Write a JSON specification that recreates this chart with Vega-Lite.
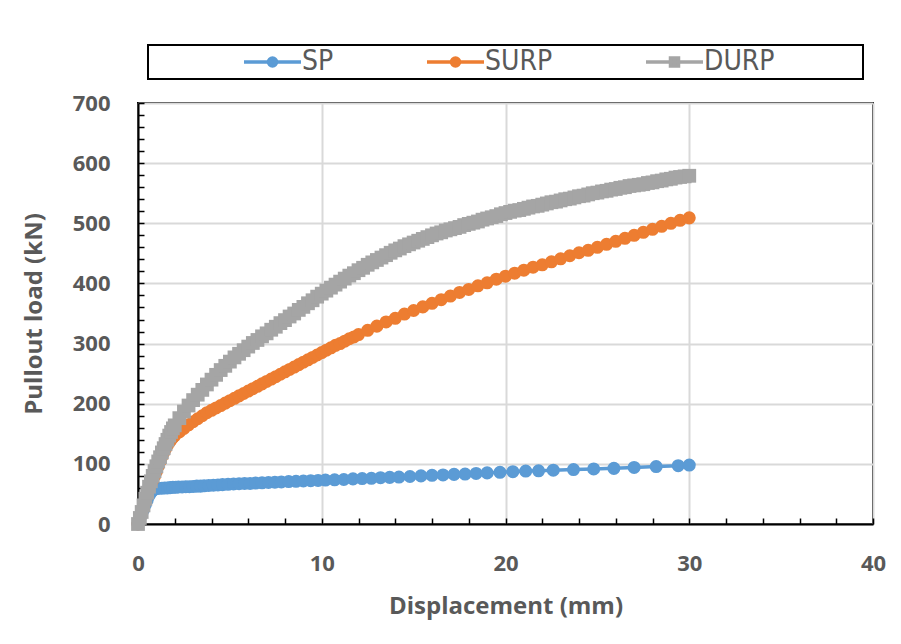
{
  "$schema": "https://vega.github.io/schema/vega-lite/v6.json",
  "width": 735,
  "height": 421,
  "autosize": {"type": "none"},
  "padding": {"left": 138, "top": 103, "right": 28, "bottom": 120},
  "background": "white",
  "config": {
    "view": {"stroke": "black", "strokeWidth": 2},
    "axis": {
      "labelFont": "Open Sans",
      "labelFontSize": 22,
      "labelFontWeight": "bold",
      "labelColor": "#595959",
      "titleFont": "Open Sans",
      "titleFontSize": 24,
      "titleFontWeight": "bold",
      "titleColor": "#595959",
      "domainColor": "black",
      "domainWidth": 2,
      "tickColor": "black",
      "tickWidth": 1.5,
      "tickSize": -6,
      "gridWidth": 2,
      "labelOverlap": false,
      "labelBound": false,
      "labelFlush": false
    }
  },
  "data": {
    "values": [
      {"series":"SP","x":0,"y":0},{"series":"SP","x":0.1,"y":8},{"series":"SP","x":0.2,"y":16},{"series":"SP","x":0.3,"y":24},{"series":"SP","x":0.4,"y":32},{"series":"SP","x":0.5,"y":40},{"series":"SP","x":0.6,"y":47},{"series":"SP","x":0.7,"y":52},{"series":"SP","x":0.8,"y":56},{"series":"SP","x":0.9,"y":58},{"series":"SP","x":1.0,"y":59},{"series":"SP","x":1.15,"y":59.5},{"series":"SP","x":1.3,"y":59.5},{"series":"SP","x":1.45,"y":60},{"series":"SP","x":1.6,"y":60},{"series":"SP","x":1.75,"y":60.5},{"series":"SP","x":1.9,"y":61},{"series":"SP","x":2.05,"y":61},{"series":"SP","x":2.2,"y":61.5},{"series":"SP","x":2.4,"y":61.5},{"series":"SP","x":2.6,"y":62},{"series":"SP","x":2.8,"y":62},{"series":"SP","x":3.0,"y":62.5},{"series":"SP","x":3.2,"y":63},{"series":"SP","x":3.4,"y":63},{"series":"SP","x":3.6,"y":63.5},{"series":"SP","x":3.85,"y":64},{"series":"SP","x":4.1,"y":64.5},{"series":"SP","x":4.35,"y":65},{"series":"SP","x":4.6,"y":65.5},{"series":"SP","x":4.9,"y":66},{"series":"SP","x":5.2,"y":66.5},{"series":"SP","x":5.5,"y":67},{"series":"SP","x":5.8,"y":67.5},{"series":"SP","x":6.1,"y":67.5},{"series":"SP","x":6.4,"y":68},{"series":"SP","x":6.75,"y":68.5},{"series":"SP","x":7.1,"y":69},{"series":"SP","x":7.45,"y":69.5},{"series":"SP","x":7.8,"y":70},{"series":"SP","x":8.2,"y":70.5},{"series":"SP","x":8.6,"y":71},{"series":"SP","x":9.0,"y":71.5},{"series":"SP","x":9.4,"y":72},{"series":"SP","x":9.8,"y":72.5},{"series":"SP","x":10.2,"y":73},{"series":"SP","x":10.7,"y":73.5},{"series":"SP","x":11.2,"y":74},{"series":"SP","x":11.7,"y":75},{"series":"SP","x":12.2,"y":75.5},{"series":"SP","x":12.7,"y":76},{"series":"SP","x":13.2,"y":77},{"series":"SP","x":13.7,"y":77.5},{"series":"SP","x":14.2,"y":78},{"series":"SP","x":14.8,"y":79},{"series":"SP","x":15.4,"y":80},{"series":"SP","x":16.0,"y":81},{"series":"SP","x":16.6,"y":81.5},{"series":"SP","x":17.2,"y":82.5},{"series":"SP","x":17.8,"y":83},{"series":"SP","x":18.4,"y":84},{"series":"SP","x":19.0,"y":85},{"series":"SP","x":19.7,"y":86},{"series":"SP","x":20.4,"y":87},{"series":"SP","x":21.1,"y":88},{"series":"SP","x":21.8,"y":88.5},{"series":"SP","x":22.6,"y":89.5},{"series":"SP","x":23.7,"y":90.5},{"series":"SP","x":24.8,"y":91.5},{"series":"SP","x":25.9,"y":92.5},{"series":"SP","x":27.0,"y":94},{"series":"SP","x":28.2,"y":95.5},{"series":"SP","x":29.4,"y":97},{"series":"SP","x":30.0,"y":98},
      {"series":"SURP","x":0,"y":0},{"series":"SURP","x":0.1,"y":9},{"series":"SURP","x":0.2,"y":18},{"series":"SURP","x":0.3,"y":28},{"series":"SURP","x":0.4,"y":38},{"series":"SURP","x":0.5,"y":48},{"series":"SURP","x":0.6,"y":58},{"series":"SURP","x":0.7,"y":66},{"series":"SURP","x":0.8,"y":73},{"series":"SURP","x":0.9,"y":80},{"series":"SURP","x":1.0,"y":87},{"series":"SURP","x":1.1,"y":96},{"series":"SURP","x":1.2,"y":104},{"series":"SURP","x":1.3,"y":112},{"series":"SURP","x":1.4,"y":119},{"series":"SURP","x":1.5,"y":125},{"series":"SURP","x":1.6,"y":131},{"series":"SURP","x":1.7,"y":136},{"series":"SURP","x":1.8,"y":140},{"series":"SURP","x":1.9,"y":144},{"series":"SURP","x":2.0,"y":147},{"series":"SURP","x":2.25,"y":153},{"series":"SURP","x":2.5,"y":159},{"series":"SURP","x":2.75,"y":165},{"series":"SURP","x":3.0,"y":170},{"series":"SURP","x":3.25,"y":175},{"series":"SURP","x":3.5,"y":180},{"series":"SURP","x":3.75,"y":185},{"series":"SURP","x":4.0,"y":189},{"series":"SURP","x":4.25,"y":193},{"series":"SURP","x":4.5,"y":197},{"series":"SURP","x":4.75,"y":201},{"series":"SURP","x":5.0,"y":205},{"series":"SURP","x":5.25,"y":209},{"series":"SURP","x":5.5,"y":213},{"series":"SURP","x":5.75,"y":217},{"series":"SURP","x":6.0,"y":221},{"series":"SURP","x":6.25,"y":225},{"series":"SURP","x":6.5,"y":229},{"series":"SURP","x":6.75,"y":233},{"series":"SURP","x":7.0,"y":237},{"series":"SURP","x":7.25,"y":241},{"series":"SURP","x":7.5,"y":245},{"series":"SURP","x":7.75,"y":249},{"series":"SURP","x":8.0,"y":253},{"series":"SURP","x":8.25,"y":257},{"series":"SURP","x":8.5,"y":261},{"series":"SURP","x":8.75,"y":265},{"series":"SURP","x":9.0,"y":269},{"series":"SURP","x":9.25,"y":273},{"series":"SURP","x":9.5,"y":277},{"series":"SURP","x":9.75,"y":281},{"series":"SURP","x":10.0,"y":285},{"series":"SURP","x":10.25,"y":289},{"series":"SURP","x":10.5,"y":293},{"series":"SURP","x":10.75,"y":297},{"series":"SURP","x":11.0,"y":300},{"series":"SURP","x":11.25,"y":304},{"series":"SURP","x":11.5,"y":308},{"series":"SURP","x":11.75,"y":311},{"series":"SURP","x":12.0,"y":315},{"series":"SURP","x":12.5,"y":322},{"series":"SURP","x":13.0,"y":329},{"series":"SURP","x":13.5,"y":336},{"series":"SURP","x":14.0,"y":342},{"series":"SURP","x":14.5,"y":349},{"series":"SURP","x":15.0,"y":355},{"series":"SURP","x":15.5,"y":361},{"series":"SURP","x":16.0,"y":367},{"series":"SURP","x":16.5,"y":373},{"series":"SURP","x":17.0,"y":379},{"series":"SURP","x":17.5,"y":385},{"series":"SURP","x":18.0,"y":390},{"series":"SURP","x":18.5,"y":396},{"series":"SURP","x":19.0,"y":401},{"series":"SURP","x":19.5,"y":407},{"series":"SURP","x":20.0,"y":412},{"series":"SURP","x":20.5,"y":417},{"series":"SURP","x":21.0,"y":422},{"series":"SURP","x":21.5,"y":427},{"series":"SURP","x":22.0,"y":431},{"series":"SURP","x":22.5,"y":436},{"series":"SURP","x":23.0,"y":441},{"series":"SURP","x":23.5,"y":446},{"series":"SURP","x":24.0,"y":451},{"series":"SURP","x":24.5,"y":455},{"series":"SURP","x":25.0,"y":460},{"series":"SURP","x":25.5,"y":465},{"series":"SURP","x":26.0,"y":470},{"series":"SURP","x":26.5,"y":475},{"series":"SURP","x":27.0,"y":480},{"series":"SURP","x":27.5,"y":485},{"series":"SURP","x":28.0,"y":490},{"series":"SURP","x":28.5,"y":495},{"series":"SURP","x":29.0,"y":500},{"series":"SURP","x":29.5,"y":505},{"series":"SURP","x":30.0,"y":509},
      {"series":"DURP","x":0,"y":0},{"series":"DURP","x":0.1,"y":10},{"series":"DURP","x":0.2,"y":20},{"series":"DURP","x":0.3,"y":31},{"series":"DURP","x":0.4,"y":42},{"series":"DURP","x":0.5,"y":52},{"series":"DURP","x":0.6,"y":62},{"series":"DURP","x":0.7,"y":71},{"series":"DURP","x":0.8,"y":80},{"series":"DURP","x":0.9,"y":88},{"series":"DURP","x":1.0,"y":96},{"series":"DURP","x":1.1,"y":104},{"series":"DURP","x":1.2,"y":111},{"series":"DURP","x":1.3,"y":119},{"series":"DURP","x":1.4,"y":126},{"series":"DURP","x":1.5,"y":133},{"series":"DURP","x":1.6,"y":140},{"series":"DURP","x":1.7,"y":147},{"series":"DURP","x":1.8,"y":153},{"series":"DURP","x":1.9,"y":159},{"series":"DURP","x":2.0,"y":164},{"series":"DURP","x":2.25,"y":176},{"series":"DURP","x":2.5,"y":187},{"series":"DURP","x":2.75,"y":197},{"series":"DURP","x":3.0,"y":206},{"series":"DURP","x":3.25,"y":215},{"series":"DURP","x":3.5,"y":223},{"series":"DURP","x":3.75,"y":232},{"series":"DURP","x":4.0,"y":240},{"series":"DURP","x":4.25,"y":248},{"series":"DURP","x":4.5,"y":256},{"series":"DURP","x":4.75,"y":263},{"series":"DURP","x":5.0,"y":270},{"series":"DURP","x":5.25,"y":277},{"series":"DURP","x":5.5,"y":283},{"series":"DURP","x":5.75,"y":289},{"series":"DURP","x":6.0,"y":295},{"series":"DURP","x":6.25,"y":301},{"series":"DURP","x":6.5,"y":306},{"series":"DURP","x":6.75,"y":312},{"series":"DURP","x":7.0,"y":317},{"series":"DURP","x":7.25,"y":323},{"series":"DURP","x":7.5,"y":328},{"series":"DURP","x":7.75,"y":334},{"series":"DURP","x":8.0,"y":339},{"series":"DURP","x":8.25,"y":345},{"series":"DURP","x":8.5,"y":350},{"series":"DURP","x":8.75,"y":356},{"series":"DURP","x":9.0,"y":361},{"series":"DURP","x":9.25,"y":367},{"series":"DURP","x":9.5,"y":372},{"series":"DURP","x":9.75,"y":378},{"series":"DURP","x":10.0,"y":383},{"series":"DURP","x":10.25,"y":388},{"series":"DURP","x":10.5,"y":393},{"series":"DURP","x":10.75,"y":398},{"series":"DURP","x":11.0,"y":403},{"series":"DURP","x":11.25,"y":408},{"series":"DURP","x":11.5,"y":413},{"series":"DURP","x":11.75,"y":417},{"series":"DURP","x":12.0,"y":422},{"series":"DURP","x":12.25,"y":426},{"series":"DURP","x":12.5,"y":431},{"series":"DURP","x":12.75,"y":435},{"series":"DURP","x":13.0,"y":439},{"series":"DURP","x":13.25,"y":443},{"series":"DURP","x":13.5,"y":447},{"series":"DURP","x":13.75,"y":451},{"series":"DURP","x":14.0,"y":455},{"series":"DURP","x":14.25,"y":458},{"series":"DURP","x":14.5,"y":462},{"series":"DURP","x":14.75,"y":465},{"series":"DURP","x":15.0,"y":468},{"series":"DURP","x":15.25,"y":471},{"series":"DURP","x":15.5,"y":474},{"series":"DURP","x":15.75,"y":477},{"series":"DURP","x":16.0,"y":480},{"series":"DURP","x":16.25,"y":483},{"series":"DURP","x":16.5,"y":485},{"series":"DURP","x":16.75,"y":488},{"series":"DURP","x":17.0,"y":490},{"series":"DURP","x":17.25,"y":492},{"series":"DURP","x":17.5,"y":494},{"series":"DURP","x":17.75,"y":497},{"series":"DURP","x":18.0,"y":499},{"series":"DURP","x":18.25,"y":501},{"series":"DURP","x":18.5,"y":503},{"series":"DURP","x":18.75,"y":506},{"series":"DURP","x":19.0,"y":508},{"series":"DURP","x":19.25,"y":510},{"series":"DURP","x":19.5,"y":512},{"series":"DURP","x":19.75,"y":515},{"series":"DURP","x":20.0,"y":517},{"series":"DURP","x":20.25,"y":519},{"series":"DURP","x":20.5,"y":521},{"series":"DURP","x":20.75,"y":522},{"series":"DURP","x":21.0,"y":524},{"series":"DURP","x":21.25,"y":526},{"series":"DURP","x":21.5,"y":528},{"series":"DURP","x":21.75,"y":529},{"series":"DURP","x":22.0,"y":531},{"series":"DURP","x":22.25,"y":533},{"series":"DURP","x":22.5,"y":535},{"series":"DURP","x":22.75,"y":536},{"series":"DURP","x":23.0,"y":538},{"series":"DURP","x":23.25,"y":540},{"series":"DURP","x":23.5,"y":541},{"series":"DURP","x":23.75,"y":543},{"series":"DURP","x":24.0,"y":545},{"series":"DURP","x":24.25,"y":546},{"series":"DURP","x":24.5,"y":548},{"series":"DURP","x":24.75,"y":550},{"series":"DURP","x":25.0,"y":551},{"series":"DURP","x":25.25,"y":553},{"series":"DURP","x":25.5,"y":554},{"series":"DURP","x":25.75,"y":556},{"series":"DURP","x":26.0,"y":557},{"series":"DURP","x":26.25,"y":559},{"series":"DURP","x":26.5,"y":560},{"series":"DURP","x":26.75,"y":562},{"series":"DURP","x":27.0,"y":563},{"series":"DURP","x":27.25,"y":564},{"series":"DURP","x":27.5,"y":565},{"series":"DURP","x":27.75,"y":567},{"series":"DURP","x":28.0,"y":568},{"series":"DURP","x":28.25,"y":570},{"series":"DURP","x":28.5,"y":571},{"series":"DURP","x":28.75,"y":573},{"series":"DURP","x":29.0,"y":574},{"series":"DURP","x":29.25,"y":576},{"series":"DURP","x":29.5,"y":577},{"series":"DURP","x":29.75,"y":578},{"series":"DURP","x":30.0,"y":579}
    ]
  },
  "encoding": {
    "x": {
      "field": "x",
      "type": "quantitative",
      "title": "Displacement (mm)",
      "scale": {"domain": [0, 40], "nice": false, "zero": false},
      "axis": {
        "values": [0,2,4,6,8,10,12,14,16,18,20,22,24,26,28,30,32,34,36,38,40],
        "labelExpr": "datum.value % 10 === 0 ? datum.label : ''",
        "gridColor": {"condition": {"test": "datum.value % 10 === 0", "value": "#D9D9D9"}, "value": "transparent"},
        "labelPadding": 35,
        "titlePadding": 20
      }
    },
    "y": {
      "field": "y",
      "type": "quantitative",
      "title": "Pullout load  (kN)",
      "scale": {"domain": [0, 700], "nice": false},
      "axis": {
        "values": [0,20,40,60,80,100,120,140,160,180,200,220,240,260,280,300,320,340,360,380,400,420,440,460,480,500,520,540,560,580,600,620,640,660,680,700],
        "labelExpr": "datum.value % 100 === 0 ? datum.label : ''",
        "gridColor": {"condition": {"test": "datum.value % 100 === 0", "value": "#D9D9D9"}, "value": "transparent"},
        "labelPadding": 34,
        "titlePadding": 26
      }
    },
    "color": {
      "field": "series",
      "type": "nominal",
      "scale": {"domain": ["SP", "SURP", "DURP"], "range": ["#5B9BD5", "#ED7D31", "#A5A5A5"]},
      "legend": {
        "orient": "none",
        "legendX": 10,
        "legendY": -58,
        "direction": "horizontal",
        "columns": 3,
        "title": "\u00a0",
        "titleOrient": "right",
        "titlePadding": 85,
        "titleFontSize": 1,
        "padding": 3,
        "symbolOffset": 84,
        "columnPadding": 0,
        "labelOffset": 39,
        "symbolSize": 100,
        "symbolStrokeWidth": 3.5,
        "labelFont": "Liberation Sans Narrow, DejaVu Sans Condensed, Roboto Condensed, sans-serif",
        "labelFontSize": 28,
        "labelColor": "#595959",
        "strokeColor": "black",
        "encode": {
          "legend": {"update": {"strokeWidth": {"value": 2}}},
          "symbols": {
            "update": {
              "shape": {"signal": "datum.value === 'DURP' ? 'M-1,0H10.4M3.9,-0.8H5.5V0.8H3.9Z' : 'M-1,0H10.4M3.9,0A0.8,0.8 0 1,1 5.5,0A0.8,0.8 0 1,1 3.9,0Z'"},
              "fill": {"scale": "color", "field": "value"},
              "stroke": {"scale": "color", "field": "value"},
              "strokeWidth": {"value": 3.5},
              "opacity": {"value": 1}
            }
          }
        }
      }
    }
  },
  "layer": [
    {"mark": {"type": "line", "strokeWidth": 3.5}, "encoding": {"order": {"field": "x", "type": "quantitative"}}},
    {"transform": [{"filter": "datum.series !== 'DURP'"}], "mark": {"type": "point", "shape": "circle", "filled": true, "size": 170, "opacity": 1}},
    {"transform": [{"filter": "datum.series === 'DURP'"}], "mark": {"type": "point", "shape": "square", "filled": true, "size": 190, "opacity": 1}}
  ]
}
